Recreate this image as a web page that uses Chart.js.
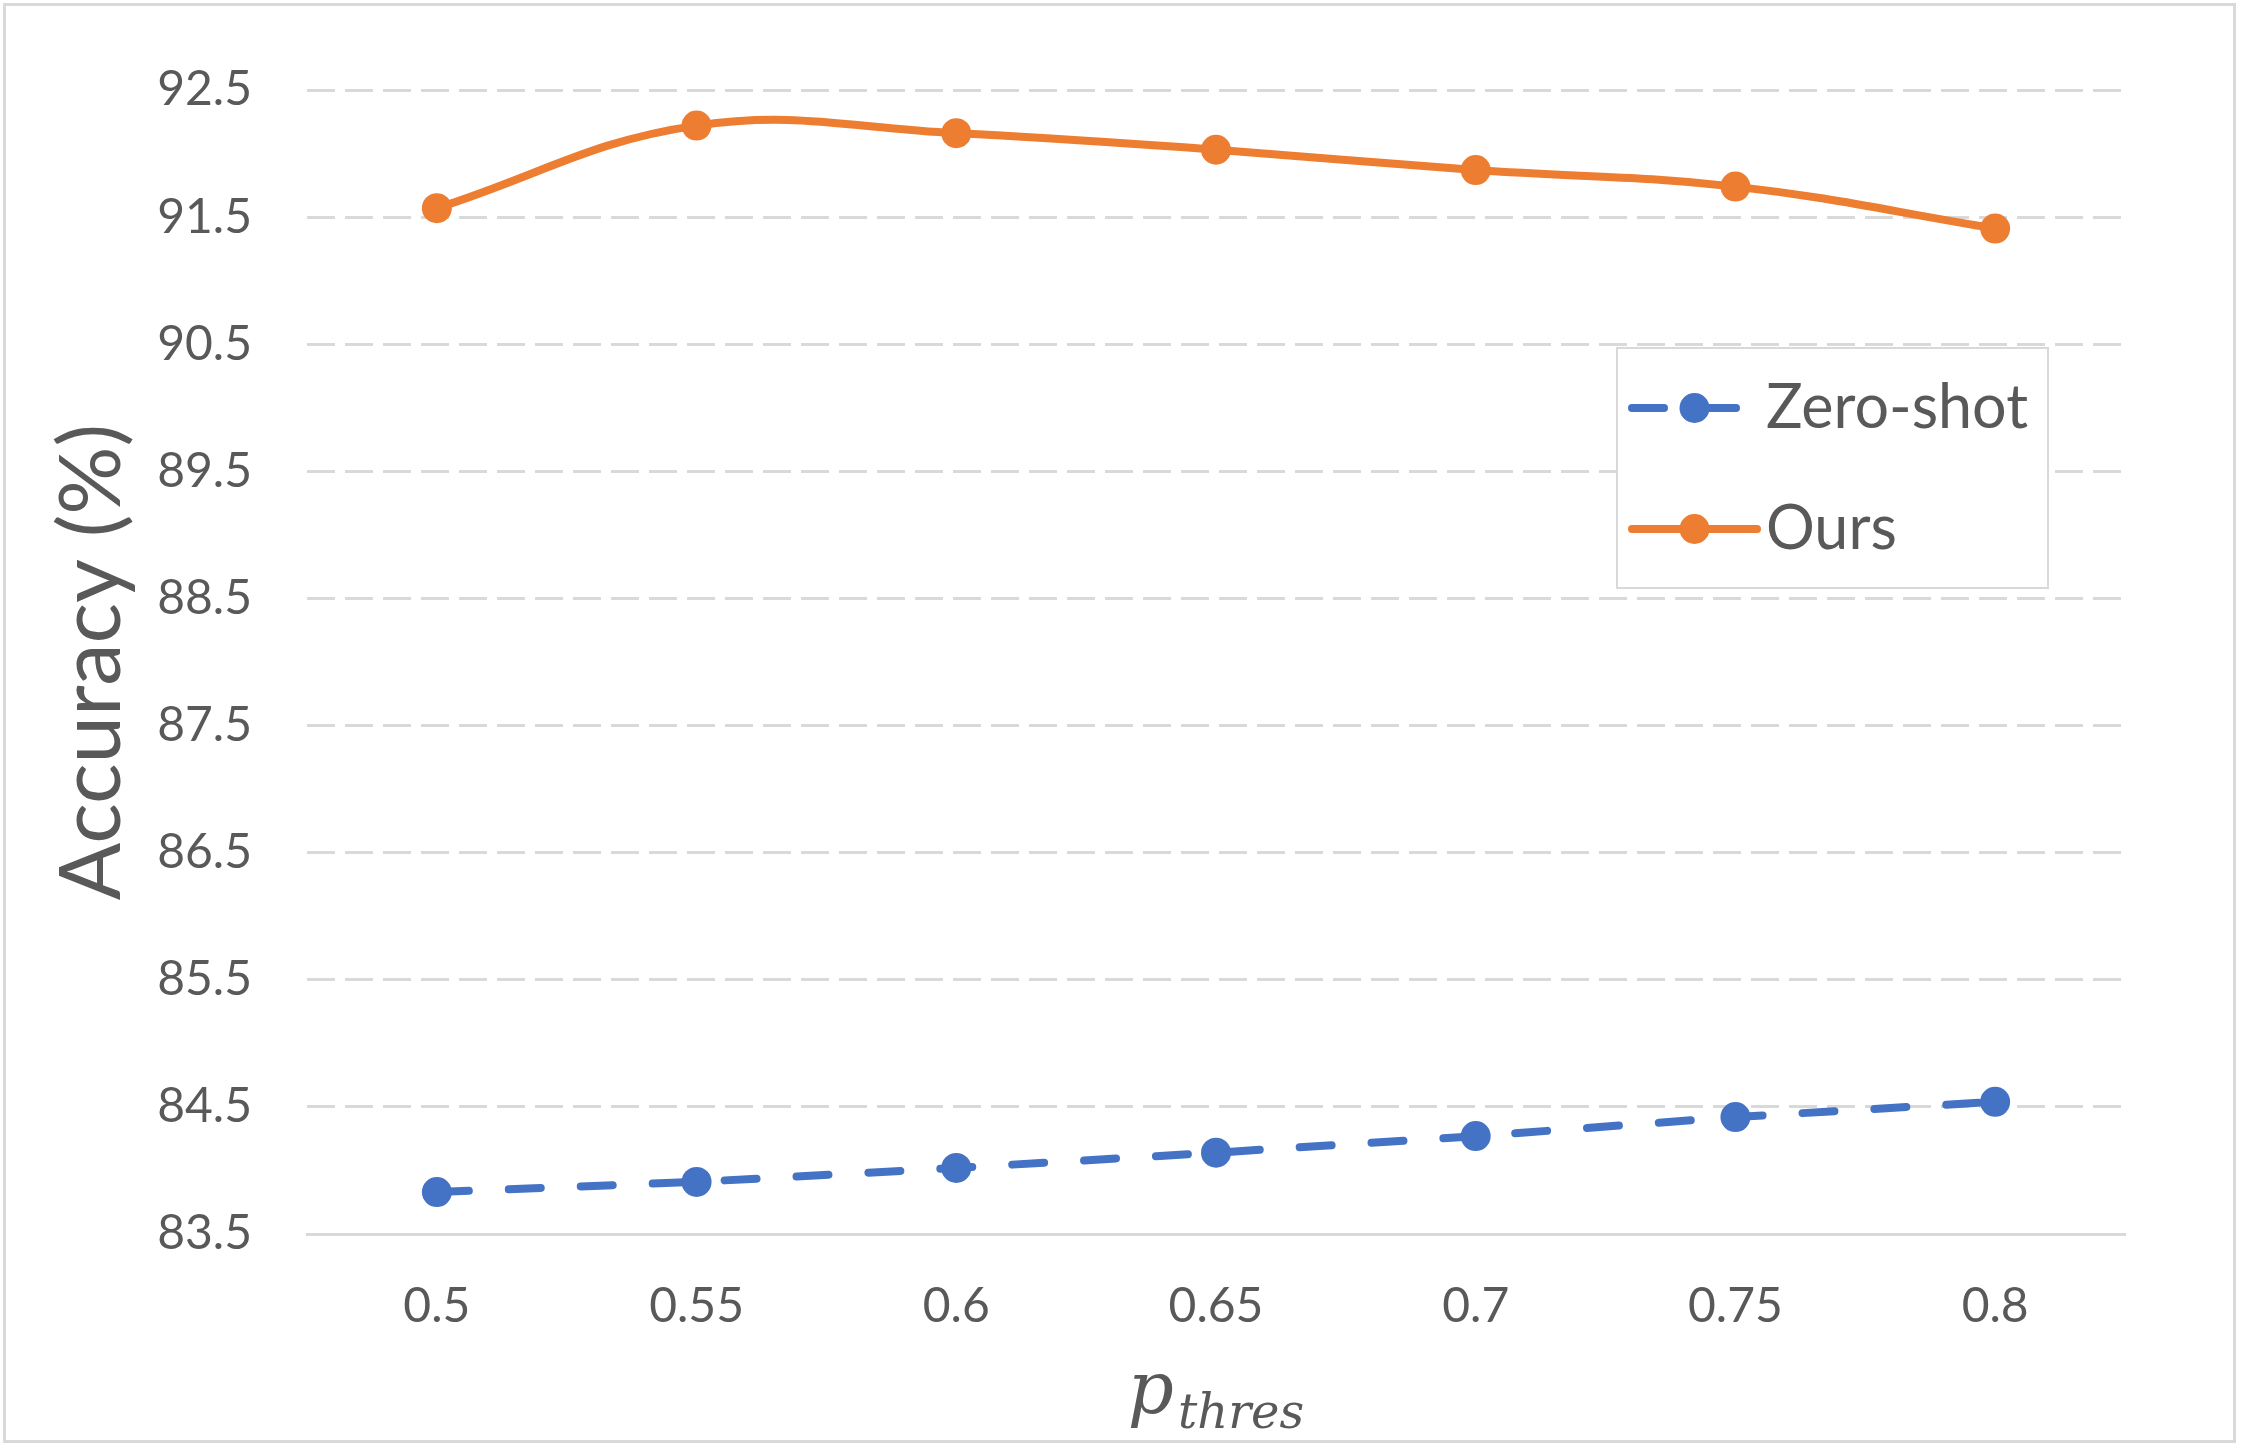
<!DOCTYPE html>
<html lang="en">

<head>
  <meta charset="UTF-8">
  <title>Accuracy vs p_thres</title>

  <!-- Chart.js -->
  <script src="https://cdn.jsdelivr.net/npm/chart.js"></script>

  <style>
    html, body {
      margin: 0;
      padding: 0;
      background: #ffffff;
    }

    .wrap {
      position: relative;
      width: 2241px;
      height: 1448px;
    }
  </style>
</head>

<body>
  <div class="wrap">
    <canvas id="accChart"></canvas>
  </div>

  <script>
    // Data
    const xLabels = ['0.5', '0.55', '0.6', '0.65', '0.7', '0.75', '0.8'];
    const zeroShot = [83.83, 83.91, 84.02, 84.14, 84.27, 84.42, 84.54];
    const ours = [91.57, 92.22, 92.16, 92.03, 91.87, 91.74, 91.41];
    const yTickValues = [83.5, 84.5, 85.5, 86.5, 87.5, 88.5, 89.5, 90.5, 91.5, 92.5];

    const textColor = '#595959';
    const gridColor = '#d9d9d9';

    // white background + thin frame around the whole chart
    const framePlugin = {
      id: 'frame',
      beforeDraw(chart) {
        const ctx = chart.ctx;
        ctx.save();
        ctx.fillStyle = '#ffffff';
        ctx.fillRect(0, 0, chart.width, chart.height);
        ctx.strokeStyle = gridColor;
        ctx.lineWidth = 3;
        ctx.strokeRect(4.5, 4.5, chart.width - 11, chart.height - 11);
        ctx.restore();
      }
    };

    // x axis title: italic p with subscript "thres"
    const xTitlePlugin = {
      id: 'xTitle',
      afterDraw(chart) {
        const ctx = chart.ctx;
        const area = chart.chartArea;
        const cx = (area.left + area.right) / 2;
        const base = 1413;
        ctx.save();
        ctx.fillStyle = textColor;
        ctx.textBaseline = 'alphabetic';
        ctx.textAlign = 'left';
        const mainFont = 'italic 72px "DejaVu Serif"';
        const subFont = 'italic 48px "DejaVu Serif"';
        ctx.font = mainFont;
        const w1 = ctx.measureText('p').width;
        ctx.font = subFont;
        const w2 = ctx.measureText('thres').width;
        const x0 = cx - (w1 + w2 + 4) / 2;
        ctx.font = mainFont;
        ctx.fillText('p', x0, base);
        ctx.font = subFont;
        ctx.fillText('thres', x0 + w1 + 4, base + 15);
        ctx.restore();
      }
    };

    // legend box drawn inside the plot area (like the Excel original)
    const boxLegendPlugin = {
      id: 'boxLegend',
      afterDatasetsDraw(chart) {
        const ctx = chart.ctx;
        const box = { x: 1617, y: 348, w: 431, h: 240 };
        ctx.save();
        ctx.fillStyle = '#ffffff';
        ctx.fillRect(box.x, box.y, box.w, box.h);
        ctx.strokeStyle = gridColor;
        ctx.lineWidth = 2;
        ctx.strokeRect(box.x, box.y, box.w, box.h);

        const rows = [408, 529];
        chart.data.datasets.forEach((ds, i) => {
          const y = rows[i];
          const x1 = box.x + 15;
          const x2 = box.x + 140;
          ctx.strokeStyle = ds.borderColor;
          ctx.lineWidth = ds.borderWidth;
          ctx.lineCap = 'round';
          ctx.setLineDash(ds.borderDash || []);
          ctx.beginPath();
          ctx.moveTo(x1, y);
          ctx.lineTo(x2, y);
          ctx.stroke();
          ctx.setLineDash([]);
          ctx.fillStyle = ds.pointBackgroundColor;
          ctx.beginPath();
          ctx.arc((x1 + x2) / 2, y, ds.pointRadius, 0, Math.PI * 2);
          ctx.fill();

          ctx.fillStyle = textColor;
          ctx.font = '61px Lato';
          ctx.textBaseline = 'middle';
          ctx.textAlign = 'left';
          ctx.fillText(ds.label, box.x + 149, y);
        });
        ctx.restore();
      }
    };

    const ctx = document.getElementById('accChart').getContext('2d');

    new Chart(ctx, {
      type: 'line',
      data: {
        labels: xLabels,
        datasets: [
          {
            label: 'Zero-shot',
            data: zeroShot,
            borderColor: '#4472c4',
            backgroundColor: '#4472c4',
            pointBackgroundColor: '#4472c4',
            borderWidth: 8,
            borderDash: [32, 40],
            borderCapStyle: 'round',
            tension: 0,
            pointRadius: 15,
            pointBorderWidth: 0,
            pointHoverRadius: 15
          },
          {
            label: 'Ours',
            data: ours,
            borderColor: '#ed7d31',
            backgroundColor: '#ed7d31',
            pointBackgroundColor: '#ed7d31',
            borderWidth: 8,
            borderCapStyle: 'round',
            tension: 0.4,
            pointRadius: 15,
            pointBorderWidth: 0,
            pointHoverRadius: 15
          }
        ]
      },
      options: {
        responsive: true,
        maintainAspectRatio: false,
        animation: false,
        layout: {
          padding: { top: 90, right: 116, bottom: 0, left: 0 }
        },
        plugins: {
          legend: { display: false },
          tooltip: { enabled: false }
        },
        scales: {
          x: {
            type: 'category',
            offset: true,
            grid: { display: false, drawTicks: false },
            border: { display: true, color: gridColor, width: 3 },
            ticks: {
              color: textColor,
              font: { family: 'Lato', size: 48 },
              padding: 44,
              maxRotation: 0
            },
            afterFit(scale) {
              scale.height = 214;
            }
          },
          y: {
            min: 83.5,
            max: 92.5,
            afterBuildTicks(scale) {
              scale.ticks = yTickValues.map(v => ({ value: v }));
            },
            grid: { color: gridColor, lineWidth: 3, drawTicks: false },
            border: { display: false, dash: [28, 10] },
            ticks: {
              color: textColor,
              font: { family: 'Lato', size: 48 },
              padding: 55,
              callback: v => String(v)
            },
            title: {
              display: true,
              text: 'Accuracy (%)',
              color: textColor,
              font: { family: 'Lato', size: 85 },
              padding: { top: 42, bottom: 0 }
            },
            afterFit(scale) {
              scale.width = 307;
            }
          }
        }
      },
      plugins: [framePlugin, xTitlePlugin, boxLegendPlugin]
    });
  </script>

</body>

</html>
